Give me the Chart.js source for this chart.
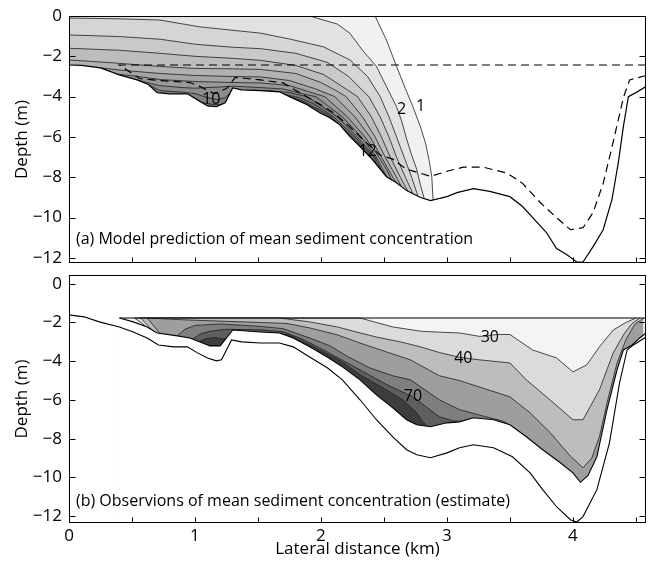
<!DOCTYPE html>
<html>
<head>
<meta charset="utf-8">
<script src="https://cdn.jsdelivr.net/npm/chart.js@4/dist/chart.umd.min.js"></script>
<style>
  body { margin: 0; background: #fff; }
  .panel { position: absolute; left: 0; width: 648px; }
  #top { top: 0; height: 270px; }
  #bottom { top: 270px; height: 292px; }
</style>
</head>
<body>
<div class="panel" id="top"><canvas id="modelChart"></canvas></div>
<div class="panel" id="bottom"><canvas id="obsChart"></canvas></div>
<script>
// axis ticks (km, m)
const xTicks = [0, 0.5, 1, 1.5, 2, 2.5, 3, 3.5, 4, 4.5];
const yTicks = [-12, -10, -8, -6, -4, -2, 0];

// ---- (a) model: bed profile, observation outline, concentration contours ----
const bedA = [[0,-2.43],[0.1,-2.45],[0.25,-2.57],[0.4,-2.92],[0.54,-3.17],[0.63,-3.4],[0.7,-3.8],[0.8,-3.86],[0.94,-3.86],[1.02,-4.16],[1.1,-4.46],[1.17,-4.5],[1.24,-4.3],[1.28,-3.8],[1.3,-3.57],[1.37,-3.66],[1.52,-3.7],[1.67,-3.76],[1.75,-4.0],[1.89,-4.4],[1.99,-4.8],[2.07,-5.05],[2.15,-5.4],[2.23,-5.98],[2.31,-6.48],[2.41,-7.13],[2.52,-7.97],[2.6,-8.27],[2.68,-8.66],[2.79,-9.0],[2.87,-9.16],[3.0,-8.96],[3.08,-8.76],[3.21,-8.56],[3.34,-8.7],[3.5,-8.96],[3.6,-9.45],[3.71,-10.2],[3.79,-10.74],[3.87,-11.53],[3.95,-11.83],[4.03,-12.2],[4.08,-12.2],[4.16,-11.44],[4.24,-10.6],[4.31,-9.1],[4.36,-7.28],[4.4,-5.5],[4.44,-4.0],[4.5,-3.8],[4.58,-3.5]];
const outlineA = [[4.58,-2.43],[0.4,-2.43],[0.56,-3.1],[0.72,-3.2],[0.96,-3.3],[1.04,-3.5],[1.15,-3.85],[1.25,-3.6],[1.32,-3.05],[1.41,-3.1],[1.52,-3.17],[1.7,-3.32],[1.83,-3.8],[1.97,-4.3],[2.1,-4.8],[2.23,-5.5],[2.33,-6.1],[2.47,-6.9],[2.57,-7.1],[2.68,-7.6],[2.79,-7.8],[2.87,-7.95],[3.0,-7.7],[3.13,-7.5],[3.29,-7.5],[3.48,-7.8],[3.6,-8.3],[3.74,-9.25],[3.87,-10.0],[3.98,-10.6],[4.08,-10.5],[4.16,-9.75],[4.24,-8.3],[4.31,-6.5],[4.36,-5.15],[4.4,-4.06],[4.45,-3.17],[4.58,-2.95]];

const conA1 = [[0,0],[2.43,0],[2.52,-1.2],[2.6,-2.5],[2.67,-3.6],[2.73,-4.5],[2.79,-5.5],[2.83,-6.3],[2.86,-7.2],[2.88,-8.0],[2.89,-9.14]];
const conA2 = [[0,0],[1.91,0],[2.13,-0.4],[2.23,-0.86],[2.33,-1.7],[2.44,-2.5],[2.52,-3.5],[2.6,-4.5],[2.64,-5.2],[2.68,-6.1],[2.72,-6.9],[2.76,-7.6],[2.79,-8.4],[2.82,-9.06]];
const conA3 = [[0,-0.1],[0.4,-0.14],[0.72,-0.2],[1.04,-0.54],[1.52,-0.85],[1.75,-1.14],[2.02,-1.53],[2.23,-2.18],[2.37,-3.0],[2.47,-4.0],[2.54,-5.0],[2.6,-6.0],[2.66,-7.0],[2.72,-8.0],[2.77,-8.94]];
const conA4 = [[0,-0.94],[0.4,-1.02],[0.72,-1.15],[1.0,-1.4],[1.3,-1.55],[1.52,-1.62],[1.8,-1.85],[2.05,-2.3],[2.22,-3.0],[2.38,-4.0],[2.47,-5.0],[2.54,-6.0],[2.6,-7.0],[2.67,-8.0],[2.73,-8.81]];
const conA5 = [[0,-1.6],[0.4,-1.7],[0.72,-1.85],[1.0,-2.0],[1.3,-2.1],[1.52,-2.2],[1.8,-2.45],[2.02,-2.9],[2.17,-3.5],[2.29,-4.0],[2.4,-5.0],[2.48,-6.0],[2.55,-7.0],[2.63,-8.0],[2.69,-8.69]];
const conA6 = [[0,-2.18],[0.3,-2.3],[0.72,-2.5],[1.0,-2.6],[1.3,-2.62],[1.52,-2.65],[1.8,-2.85],[2.0,-3.3],[2.12,-3.7],[2.2,-4.0],[2.33,-5.0],[2.43,-6.0],[2.51,-7.0],[2.6,-8.0],[2.64,-8.47]];
const conA7 = [[0.25,-2.57],[0.4,-2.68],[0.72,-2.85],[1.0,-2.95],[1.3,-3.0],[1.52,-3.02],[1.75,-3.2],[1.95,-3.6],[2.11,-4.0],[2.27,-5.0],[2.39,-6.0],[2.48,-7.0],[2.57,-8.0],[2.6,-8.27]];
const conA8 = [[0.38,-2.88],[0.55,-3.0],[0.72,-3.15],[1.0,-3.25],[1.3,-3.3],[1.52,-3.32],[1.75,-3.45],[1.9,-3.75],[2.03,-4.0],[2.21,-5.0],[2.35,-6.0],[2.46,-7.0],[2.52,-7.6],[2.56,-8.12]];
const conA9 = [[0.52,-3.13],[0.65,-3.35],[0.72,-3.45],[0.9,-3.55],[1.0,-3.58],[1.2,-3.52],[1.3,-3.48],[1.52,-3.55],[1.7,-3.62],[1.85,-3.85],[1.96,-4.0],[2.17,-5.0],[2.32,-6.0],[2.44,-7.0],[2.52,-7.97]];
const conA10a = [[0.63,-3.4],[0.72,-3.7],[0.9,-3.78],[1.0,-3.85],[1.1,-4.05],[1.18,-4.15],[1.24,-4.05],[1.28,-3.8]];
const conA10b = [[1.45,-3.68],[1.6,-3.71],[1.75,-3.8],[1.89,-4.0],[2.13,-5.0],[2.29,-6.0],[2.43,-7.0],[2.48,-7.66]];
const conA11a = [[1.06,-4.3],[1.14,-4.38],[1.2,-4.4],[1.23,-4.33]];
const conA11b = [[1.72,-3.9],[1.83,-4.05],[1.95,-4.38],[2.1,-5.0],[2.27,-6.0],[2.42,-7.0],[2.44,-7.36]];
const conA12 = [[1.77,-4.06],[1.85,-4.2],[2.0,-4.7],[2.08,-5.0],[2.25,-6.0],[2.37,-6.75],[2.4,-7.07]];

// ---- (b) observations ----
const bedB = [[0,-12.35],[0,-1.61],[0.12,-1.71],[0.24,-1.97],[0.4,-2.23],[0.51,-2.49],[0.62,-2.8],[0.71,-3.16],[0.83,-3.26],[0.94,-3.26],[1.02,-3.57],[1.1,-3.83],[1.17,-3.98],[1.21,-3.93],[1.25,-3.42],[1.29,-2.9],[1.37,-3.0],[1.52,-3.06],[1.67,-3.06],[1.78,-3.26],[1.91,-3.78],[2.05,-4.34],[2.17,-4.96],[2.31,-5.99],[2.44,-7.02],[2.57,-7.9],[2.68,-8.57],[2.76,-8.83],[2.87,-8.98],[3.0,-8.73],[3.1,-8.47],[3.21,-8.31],[3.37,-8.47],[3.52,-8.93],[3.66,-9.76],[3.76,-10.63],[3.87,-11.51],[3.98,-12.18],[4.03,-12.3],[4.08,-12.02],[4.19,-10.63],[4.29,-8.21],[4.37,-5.12],[4.43,-3.42],[4.48,-3.16],[4.58,-2.75]];
const floorB = [[0.4,-1.77],[0.51,-1.97],[0.62,-2.23],[0.7,-2.54],[0.86,-2.69],[0.96,-2.8],[1.06,-3.06],[1.12,-3.21],[1.2,-3.21],[1.25,-2.8],[1.3,-2.39],[1.41,-2.44],[1.52,-2.49],[1.67,-2.54],[1.78,-2.8],[1.91,-3.26],[2.05,-3.78],[2.17,-4.29],[2.31,-4.96],[2.44,-5.74],[2.57,-6.41],[2.68,-7.02],[2.76,-7.28],[2.87,-7.38],[3.0,-7.18],[3.1,-7.13],[3.21,-6.92],[3.37,-7.02],[3.5,-7.28],[3.63,-7.9],[3.76,-8.57],[3.9,-9.24],[4.0,-9.76],[4.06,-10.25],[4.12,-9.9],[4.19,-8.93],[4.27,-6.51],[4.35,-4.45],[4.4,-3.42],[4.47,-3.16],[4.53,-2.8],[4.58,-2.54]];
const surfaceB = [[0.4,-1.77],[4.58,-1.77]];

const conB30 = [[0.45,-9],[0.6,-2.15],[0.52,-1.77],[2.31,-1.77],[2.57,-2.23],[2.79,-2.45],[2.94,-2.5],[3.1,-2.54],[3.26,-2.72],[3.4,-2.62],[3.5,-2.62],[3.68,-3.42],[3.87,-3.83],[4.0,-4.55],[4.11,-4.19],[4.21,-3.26],[4.32,-2.39],[4.42,-2.0],[4.5,-1.77]];
const conB40 = [[0.5,-9],[0.66,-2.4],[0.57,-1.77],[1.67,-1.77],[1.91,-1.97],[2.13,-2.23],[2.31,-2.54],[2.44,-2.75],[2.63,-3.0],[2.79,-3.26],[2.94,-3.55],[3.1,-3.8],[3.26,-3.93],[3.5,-4.09],[3.63,-4.96],[3.79,-5.84],[4.0,-7.02],[4.08,-7.02],[4.21,-5.48],[4.32,-3.57],[4.41,-2.54],[4.47,-2.05],[4.53,-1.77]];
const conB50 = [[0.55,-9],[0.72,-2.55],[0.62,-1.77],[0.9,-1.86],[1.2,-1.93],[1.52,-2.0],[1.73,-2.05],[1.91,-2.28],[2.13,-2.64],[2.31,-3.06],[2.52,-3.52],[2.71,-3.93],[2.94,-4.75],[3.1,-5.0],[3.29,-5.4],[3.5,-5.84],[3.66,-6.66],[3.82,-7.69],[3.98,-8.9],[4.08,-9.5],[4.15,-9.0],[4.21,-7.9],[4.28,-5.9],[4.35,-4.1],[4.42,-2.9],[4.49,-2.1],[4.56,-1.77]];
const conB60 = [[0.86,-2.69],[0.92,-2.35],[1.0,-2.15],[1.2,-2.08],[1.52,-2.2],[1.7,-2.32],[1.91,-2.8],[2.07,-3.2],[2.21,-3.75],[2.39,-4.35],[2.57,-4.75],[2.71,-4.96],[2.94,-5.99],[3.1,-6.5],[3.3,-6.85],[3.45,-7.1],[3.56,-7.56]];
const conB70 = [[0.98,-2.86],[1.04,-2.6],[1.12,-2.45],[1.25,-2.35],[1.52,-2.38],[1.7,-2.48],[1.85,-2.85],[2.0,-3.35],[2.17,-3.95],[2.31,-4.45],[2.52,-5.2],[2.73,-5.84],[2.94,-6.87],[3.05,-7.08],[3.12,-7.1]];
const conB80a = [[1.03,-2.99],[1.08,-2.85],[1.16,-2.78],[1.22,-2.84],[1.245,-2.84]];
const conB80b = [[1.62,-2.52],[1.75,-2.66],[1.91,-3.15],[2.17,-4.04],[2.31,-4.7],[2.52,-5.48],[2.65,-6.0],[2.76,-6.66],[2.8,-7.05],[2.84,-7.35]];

Chart.defaults.font.family = "'Open Sans', sans-serif";
Chart.defaults.font.size = 17;
Chart.defaults.color = '#000';

const toXY = pts => pts.map(([x, y]) => ({ x, y }));

// filled contour level: everything under the line, later masked below the bed
function band(pts, color) {
  return { data: toXY(pts), showLine: true, fill: 'start', backgroundColor: color,
           borderColor: '#1e1e1e', borderWidth: 0.8, pointRadius: 0 };
}
function line(pts, extra) {
  return Object.assign({ data: toXY(pts), showLine: true, fill: false,
           borderColor: '#000', borderWidth: 1.1, pointRadius: 0 }, extra);
}
function stack(list) {
  // later datasets paint on top
  list.forEach((d, i) => { d.order = -i; });
  return list;
}

const framePlugin = {
  id: 'frame',
  afterDatasetsDraw(chart, args, opts) {
    const { ctx, chartArea: a, scales: { x, y } } = chart;
    const L = Math.round(a.left) + 0.5, R = Math.round(a.right) - 0.5;
    const T = Math.round(a.top) + 0.5, B = Math.round(a.bottom) - 0.5;
    ctx.save();
    ctx.strokeStyle = '#000';
    ctx.lineWidth = 1;
    ctx.beginPath();
    xTicks.forEach(v => {
      const px = Math.round(x.getPixelForValue(v)) + 0.5;
      ctx.moveTo(px, B); ctx.lineTo(px, B - 5);
    });
    yTicks.forEach(v => {
      const py = Math.round(y.getPixelForValue(v)) + 0.5;
      ctx.moveTo(L, py); ctx.lineTo(L + 6, py);
      ctx.moveTo(R, py); ctx.lineTo(R - 6, py);
    });
    ctx.stroke();
    ctx.strokeRect(L, T, R - L, B - T);

    ctx.fillStyle = '#000';
    ctx.font = "16px 'Open Sans', sans-serif";
    ctx.textBaseline = 'middle';
    ctx.textAlign = 'center';
    (opts.labels || []).forEach(l => {
      ctx.fillText(l.text, x.getPixelForValue(l.x), y.getPixelForValue(l.y));
    });
    if (opts.caption) {
      ctx.textAlign = 'left';
      ctx.fillText(opts.caption.text, x.getPixelForValue(opts.caption.x), y.getPixelForValue(opts.caption.y));
    }
    ctx.restore();
  }
};

function makeOptions(yMin, yMax, showX, pad, frame) {
  return {
    responsive: true,
    maintainAspectRatio: false,
    animation: false,
    events: [],
    layout: { autoPadding: false, padding: pad },
    plugins: { legend: { display: false }, tooltip: { enabled: false }, frame },
    scales: {
      x: {
        type: 'linear', min: 0, max: 4.58,
        afterBuildTicks: s => { s.ticks = xTicks.map(v => ({ value: v })); },
        afterFit: s => { s.height = showX ? 39 : 7; s.paddingLeft = 0; s.paddingRight = 0; },
        grid: { display: false, drawTicks: false },
        border: { display: false },
        ticks: { display: showX, autoSkip: false, maxRotation: 0, padding: 3,
                 callback: v => Number.isInteger(v) ? String(v) : '' },
        title: { display: showX, text: 'Lateral distance (km)', padding: { top: 0, bottom: 3 } }
      },
      y: {
        type: 'linear', min: yMin, max: yMax,
        afterBuildTicks: s => { s.ticks = yTicks.map(v => ({ value: v })); },
        afterFit: s => { s.width = 69; s.paddingTop = 0; s.paddingBottom = 0; },
        grid: { display: false, drawTicks: false },
        border: { display: false },
        ticks: { padding: 7, callback: v => String(v).replace('-', '\u2212') },
        title: { display: true, text: 'Depth (m)', padding: { top: 12, bottom: 0 } }
      }
    }
  };
}

new Chart(document.getElementById('modelChart'), {
  type: 'scatter',
  data: {
    datasets: stack([
      band(conA1, '#f1f1f1'),
      band(conA2, '#e2e2e2'),
      band(conA3, '#d5d5d5'),
      band(conA4, '#c9c9c9'),
      band(conA5, '#bdbdbd'),
      band(conA6, '#b1b1b1'),
      band(conA7, '#a5a5a5'),
      band(conA8, '#999999'),
      band(conA9, '#8d8d8d'),
      band(conA10a, '#818181'),
      band(conA10b, '#818181'),
      band(conA11a, '#757575'),
      band(conA11b, '#757575'),
      band(conA12, '#696969'),
      line(bedA, { fill: 'start', backgroundColor: '#fff', borderWidth: 1.2 }),
      line(outlineA, { borderDash: [8, 5], borderWidth: 1.2 })
    ])
  },
  options: makeOptions(-12.25, 0, false, { top: 16, right: 2, bottom: 0, left: 0 }, {
    labels: [
      { text: '1', x: 2.79, y: -4.5 },
      { text: '2', x: 2.64, y: -4.65 },
      { text: '10', x: 1.13, y: -4.16 },
      { text: '12', x: 2.37, y: -6.73 }
    ],
    caption: { text: '(a) Model prediction of mean sediment concentration', x: 0.055, y: -11.1 }
  }),
  plugins: [framePlugin]
});

new Chart(document.getElementById('obsChart'), {
  type: 'scatter',
  data: {
    datasets: stack([
      line(surfaceB, { fill: 'start', backgroundColor: '#f4f4f4', borderWidth: 0 }),
      band(conB30, '#dbdbdb'),
      band(conB40, '#bdbdbd'),
      band(conB50, '#9e9e9e'),
      band(conB60, '#7f7f7f'),
      band(conB70, '#5f5f5f'),
      band(conB80a, '#3d3d3d'),
      band(conB80b, '#3d3d3d'),
      line(floorB, { fill: 'start', backgroundColor: '#fff', borderWidth: 1.1 }),
      line(bedB, { borderWidth: 1.1 }),
      line(surfaceB, { borderWidth: 1.2 })
    ])
  },
  options: makeOptions(-12.35, 0.45, true, { top: 5, right: 2, bottom: 0, left: 0 }, {
    labels: [
      { text: '30', x: 3.34, y: -2.75 },
      { text: '40', x: 3.13, y: -3.85 },
      { text: '70', x: 2.73, y: -5.84 }
    ],
    caption: { text: '(b) Observions of mean sediment concentration (estimate)', x: 0.055, y: -11.25 }
  }),
  plugins: [framePlugin]
});
</script>
</body>
</html>
